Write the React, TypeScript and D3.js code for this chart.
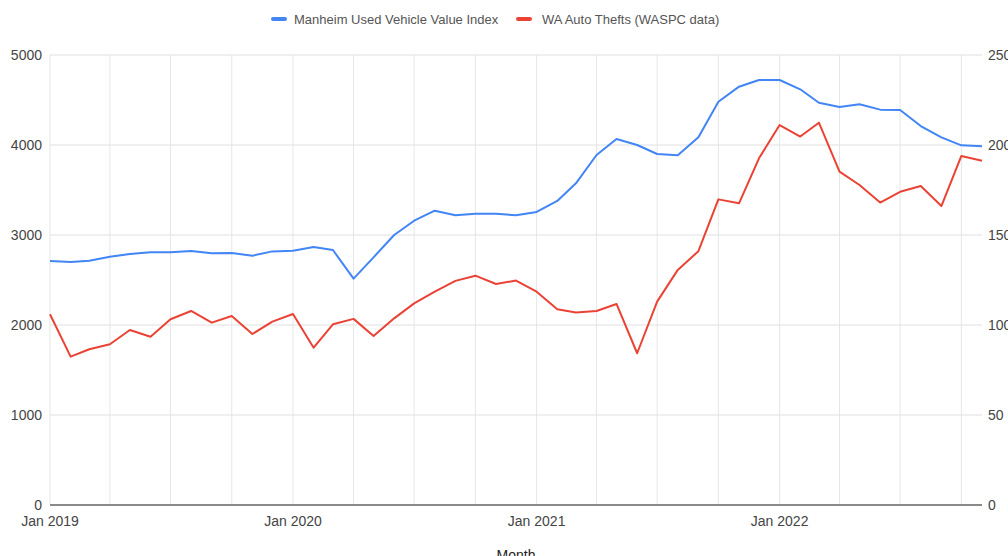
import React from "react";
import * as d3 from "d3";

const START_YEAR = 2019;
const months: Date[] = d3.range(47).map((i) => new Date(START_YEAR, i, 1));

const manheimIndex: number[] = [
  2711, 2700, 2715, 2759, 2789, 2807, 2807, 2822, 2796, 2800, 2770, 2818,
  2826, 2867, 2833, 2515, 2752, 3000, 3159, 3270, 3219, 3237, 3237, 3219,
  3256, 3378, 3574, 3889, 4067, 4000, 3900, 3885, 4085, 4481, 4648, 4722,
  4722, 4619, 4470, 4422, 4452, 4393, 4389, 4211, 4085, 3996, 3985,
];

const waThefts: number[] = [
  106, 82.4, 86.5, 89.3, 97.2, 93.5, 103.2, 107.8, 101.3, 105, 95, 101.9,
  106.1, 87.4, 100.4, 103.4, 93.9, 103.7, 112, 118.5, 124.5, 127.4, 122.8, 124.7,
  118.5, 108.7, 106.9, 107.8, 111.7, 84.3, 113, 130.6, 141, 169.8, 167.6, 192.6,
  211.1, 204.7, 212.4, 185.2, 177.8, 168, 174, 177.2, 166.1, 193.9, 191.3,
];

const leftTicks: number[] = [0, 1000, 2000, 3000, 4000, 5000];
const rightTicks: number[] = [0, 50, 100, 150, 200, 250];
const yearTicks: Date[] = [2019, 2020, 2021, 2022].map((y) => new Date(y, 0, 1));
const gridMonths: Date[] = d3.range(0, 47, 3).map((i) => new Date(START_YEAR, i, 1));

const seriesNames = ["Manheim Used Vehicle Value Index", "WA Auto Thefts (WASPC data)"];
const seriesColors = ["#4285F4", "#EA4335"];

const W = 1008;
const H = 556;
const M = { left: 50, right: 982, top: 55, bottom: 505 };
const FONT = "'Liberation Sans', Arial, sans-serif";

export default function App() {
  const x = d3.scaleTime().domain([months[0], months[months.length - 1]]).range([M.left, M.right]);
  const yL = d3.scaleLinear().domain([0, 5000]).range([M.bottom, M.top]);
  const yR = d3.scaleLinear().domain([0, 250]).range([M.bottom, M.top]);

  const blueLine = d3
    .line<number>()
    .x((_, i) => x(months[i]))
    .y((d) => yL(d))(manheimIndex) as string;
  const redLine = d3
    .line<number>()
    .x((_, i) => x(months[i]))
    .y((d) => yR(d))(waThefts) as string;

  const fmt = d3.timeFormat("%b %Y");

  return (
    <svg
      width={W}
      height={H}
      style={{ position: "absolute", left: 0, top: 0, background: "#fff" }}
      fontFamily={FONT}
    >
      {/* legend */}
      <g>
        <line x1={273} x2={285} y1={19} y2={19} stroke={seriesColors[0]} strokeWidth={4} strokeLinecap="round" />
        <text x={294} y={23.5} fontSize={13} fill="#555">{seriesNames[0]}</text>
        <line x1={518} x2={530} y1={19} y2={19} stroke={seriesColors[1]} strokeWidth={4} strokeLinecap="round" />
        <text x={542} y={23.5} fontSize={13} fill="#555">{seriesNames[1]}</text>
      </g>

      {/* vertical gridlines */}
      {gridMonths.map((d, i) => (
        <line key={"vg" + i} x1={x(d)} x2={x(d)} y1={M.top} y2={M.bottom} stroke="#e6e6e6" strokeWidth={1} />
      ))}
      {/* horizontal gridlines */}
      {leftTicks.map((t) => (
        <line key={"hg" + t} x1={M.left} x2={M.right} y1={yL(t)} y2={yL(t)} stroke="#e0e0e0" strokeWidth={1} />
      ))}

      {/* baseline */}
      <line x1={M.left} x2={M.right} y1={M.bottom} y2={M.bottom} stroke="#8a8a8a" strokeWidth={2} />

      {/* left axis labels */}
      {leftTicks.map((t) => (
        <text key={"lt" + t} x={42} y={yL(t) + 5} fontSize={14} textAnchor="end" fill="#444">
          {t}
        </text>
      ))}
      {/* right axis labels */}
      {rightTicks.map((t) => (
        <text key={"rt" + t} x={988} y={yR(t) + 5} fontSize={14} textAnchor="start" fill="#444">
          {t}
        </text>
      ))}

      {/* x axis labels */}
      {yearTicks.map((d, i) => (
        <text key={"xt" + i} x={x(d)} y={526} fontSize={14} textAnchor="middle" fill="#444">
          {fmt(d)}
        </text>
      ))}
      <text x={(M.left + M.right) / 2} y={560} fontSize={14} textAnchor="middle" fill="#222">
        Month
      </text>

      {/* series */}
      <path d={blueLine} fill="none" stroke={seriesColors[0]} strokeWidth={2} strokeLinejoin="round" />
      <path d={redLine} fill="none" stroke={seriesColors[1]} strokeWidth={2} strokeLinejoin="round" />
    </svg>
  );
}
